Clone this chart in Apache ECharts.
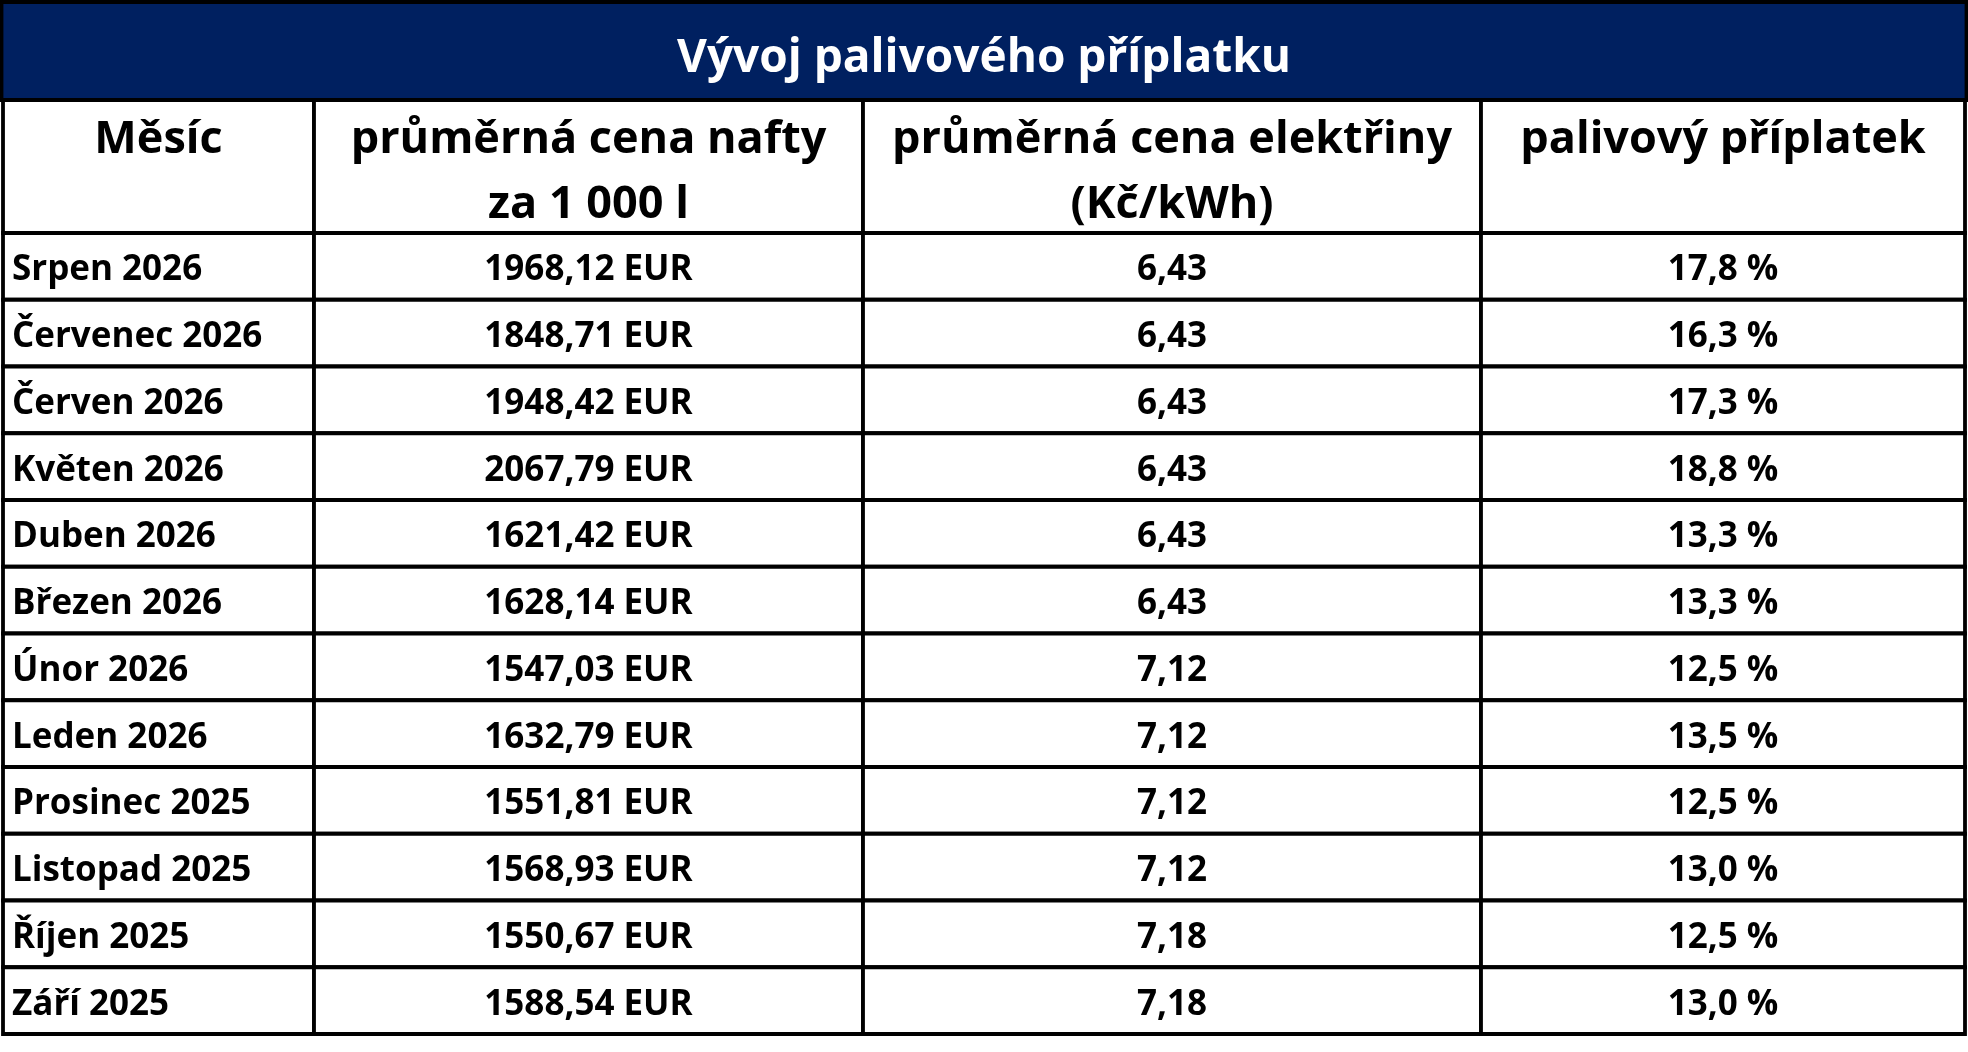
<!DOCTYPE html>
<html>
<head>
<meta charset="utf-8">
<script src="https://cdn.jsdelivr.net/npm/echarts@6/dist/echarts.min.js"></script>
<style>
html,body{margin:0;padding:0;background:#fff;}
#chart{width:1968px;height:1052px;}
</style>
</head>
<body>
<div id="chart"></div>
<script>
const tableTitle = 'Vývoj palivového příplatku';
const headers = ['Měsíc', 'průměrná cena nafty\nza 1 000 l', 'průměrná cena elektřiny\n(Kč/kWh)', 'palivový příplatek'];
const months = ['Srpen 2026', 'Červenec 2026', 'Červen 2026', 'Květen 2026', 'Duben 2026', 'Březen 2026', 'Únor 2026', 'Leden 2026', 'Prosinec 2025', 'Listopad 2025', 'Říjen 2025', 'Září 2025'];
const dieselEUR = [1968.12, 1848.71, 1948.42, 2067.79, 1621.42, 1628.14, 1547.03, 1632.79, 1551.81, 1568.93, 1550.67, 1588.54];
const electricityKc = [6.43, 6.43, 6.43, 6.43, 6.43, 6.43, 7.12, 7.12, 7.12, 7.12, 7.18, 7.18];
const surchargePct = [17.8, 16.3, 17.3, 18.8, 13.3, 13.3, 12.5, 13.5, 12.5, 13.0, 12.5, 13.0];

// layout (pixels)
const W = 1968;
const LEFT = 3, RIGHT = 3;
const TITLE_TOP = 2, TITLE_BOTTOM = 100, HEADER_BOTTOM = 233, TABLE_BOTTOM = 1034;
const colEdges = [0, 311, 860, 1478, W - LEFT - RIGHT];
const LW = 3.8;
const FONT = '"Open Sans", "Noto Sans", sans-serif';
const NAVY = '#002060';

const fmt = (v, d) => v.toFixed(d).replace('.', ',');

const chart = echarts.init(document.getElementById('chart'));

const graphics = [];
graphics.push({
  type: 'rect', z: 0,
  shape: { x: LEFT - 1.5, y: TITLE_TOP, width: W - LEFT - RIGHT + 3, height: TITLE_BOTTOM - TITLE_TOP },
  style: { fill: NAVY, stroke: '#000', lineWidth: LW }
});
for (let c = 0; c < 4; c++) {
  const x0 = LEFT + colEdges[c], x1 = LEFT + colEdges[c + 1];
  graphics.push({
    type: 'rect', z: 0,
    shape: { x: x0, y: TITLE_BOTTOM, width: x1 - x0, height: HEADER_BOTTOM - TITLE_BOTTOM },
    style: { fill: '#fff', stroke: '#000', lineWidth: LW }
  });
  graphics.push({
    type: 'text', z: 1,
    style: {
      text: headers[c], x: (x0 + x1) / 2, y: 108,
      align: 'center', verticalAlign: 'top', lineHeight: 65,
      font: 'bold 45px ' + FONT, fill: '#000'
    }
  });
}

const seriesData = months.map((m, i) => [i, dieselEUR[i], electricityKc[i], surchargePct[i]]);

chart.setOption({
  backgroundColor: '#fff',
  animation: false,
  title: {
    text: tableTitle, left: 'center', top: 34, padding: 0,
    textStyle: { color: '#fff', fontSize: 46, fontWeight: 'bold', fontFamily: FONT, lineHeight: 50 }
  },
  graphic: graphics,
  grid: { left: LEFT, right: RIGHT, top: HEADER_BOTTOM, bottom: 1052 - TABLE_BOTTOM, containLabel: false },
  xAxis: { type: 'value', min: 0, max: colEdges[4], show: false },
  yAxis: { type: 'category', data: months, inverse: true, show: false },
  series: [{
    type: 'custom',
    encode: { y: 0, x: 1 },
    data: seriesData,
    renderItem: function (params, api) {
      const i = params.dataIndex;
      const row = api.value(0);
      const yc = api.coord([0, row])[1];
      const h = api.size([0, 1])[1];
      const texts = [months[i], fmt(api.value(1), 2) + ' EUR', fmt(api.value(2), 2), fmt(api.value(3), 1) + ' %'];
      const children = [];
      for (let c = 0; c < 4; c++) {
        const x0 = api.coord([colEdges[c], row])[0];
        const x1 = api.coord([colEdges[c + 1], row])[0];
        children.push({
          type: 'rect',
          shape: { x: x0, y: yc - h / 2, width: x1 - x0, height: h },
          style: { fill: '#fff', stroke: '#000', lineWidth: LW }
        });
      }
      for (let c = 0; c < 4; c++) {
        const x0 = api.coord([colEdges[c], row])[0];
        const x1 = api.coord([colEdges[c + 1], row])[0];
        children.push({
          type: 'text',
          style: {
            text: texts[c],
            x: c === 0 ? x0 + 9 : (x0 + x1) / 2,
            y: yc + 4,
            align: c === 0 ? 'left' : 'center',
            verticalAlign: 'middle',
            font: 'bold 35px ' + FONT,
            fill: '#000'
          }
        });
      }
      return { type: 'group', children: children };
    }
  }]
});
</script>
</body>
</html>
